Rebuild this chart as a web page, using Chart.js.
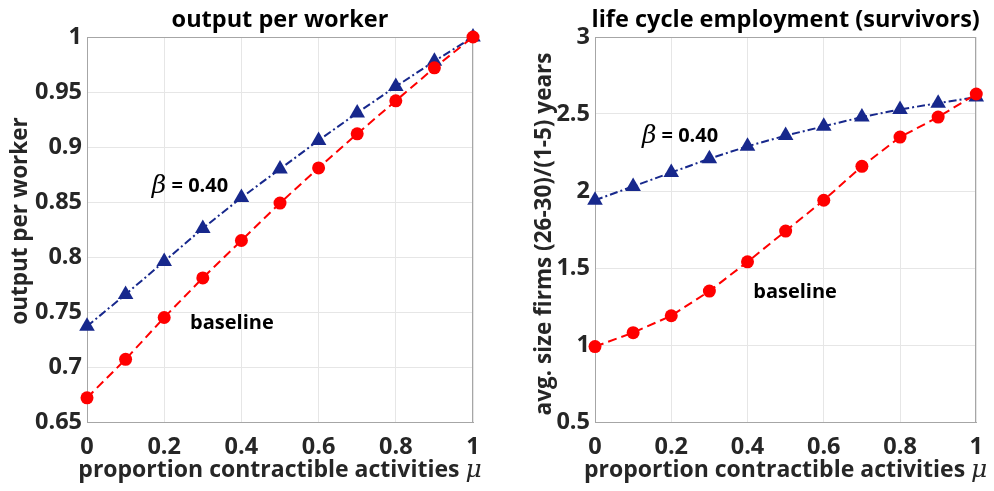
<!DOCTYPE html>
<html>
<head>
<meta charset="utf-8">
<script src="https://cdn.jsdelivr.net/npm/chart.js@4"></script>
<style>
  body { margin: 0; background: #fff; }
  .panel { position: absolute; top: 0; height: 491px; }
</style>
</head>
<body>
<div class="panel" style="left:0;width:494px"><canvas id="left" width="494" height="491"></canvas></div>
<div class="panel" style="left:494px;width:500px"><canvas id="right" width="500" height="491"></canvas></div>
<script>
// valores
const mu = [0, 0.1, 0.2, 0.3, 0.4, 0.5, 0.6, 0.7, 0.8, 0.9, 1];
const xTicks = [0, 0.2, 0.4, 0.6, 0.8, 1];

const outputBeta = [0.737, 0.766, 0.796, 0.826, 0.854, 0.880, 0.906, 0.931, 0.955, 0.978, 1.0];
const outputBase = [0.672, 0.707, 0.745, 0.781, 0.815, 0.849, 0.881, 0.912, 0.942, 0.972, 1.0];

const sizeBeta = [1.94, 2.03, 2.12, 2.21, 2.29, 2.36, 2.42, 2.48, 2.53, 2.57, 2.61];
const sizeBase = [0.99, 1.08, 1.19, 1.35, 1.54, 1.74, 1.94, 2.16, 2.35, 2.48, 2.63];

const outputTicks = [0.65, 0.7, 0.75, 0.8, 0.85, 0.9, 0.95, 1];
const sizeTicks = [0.5, 1, 1.5, 2, 2.5, 3];

const BLUE = '#17288c';
const RED = '#ff0000';
const TXT = '#262626';
const FAM = '"Open Sans"';
const ITAL = 'italic 25px "DejaVu Serif"';

function pts(ys) {
    return mu.map((x, i) => ({ x: x, y: ys[i] }));
}

// dibuja trozos de texto con fuentes distintas
function drawRuns(ctx, runs, x, y, align) {
    let total = 0;
    runs.forEach(r => { ctx.font = r.font; total += ctx.measureText(r.text).width; });
    let cx = align === 'center' ? x - total / 2 : x;
    ctx.textAlign = 'left';
    ctx.textBaseline = 'middle';
    runs.forEach(r => {
        ctx.font = r.font;
        ctx.fillStyle = r.color || TXT;
        ctx.fillText(r.text, cx, y);
        cx += ctx.measureText(r.text).width;
    });
}

const decor = {
    id: 'decor',
    beforeDatasetsDraw(chart) {
        const { ctx, chartArea: a } = chart;
        ctx.save();
        ctx.strokeStyle = '#a6a6a6';
        ctx.lineWidth = 1;
        ctx.strokeRect(Math.round(a.left) + 0.5, Math.round(a.top) + 0.5, Math.round(a.width) - 1, Math.round(a.height));
        ctx.restore();
    },
    afterDraw(chart, args, opts) {
        const { ctx, chartArea: a, scales: { x, y } } = chart;
        const mid = (a.left + a.right) / 2;
        ctx.save();
        drawRuns(ctx, [{ text: opts.title, font: 'bold 23.5px ' + FAM, color: '#000' }], mid, 20, 'center');
        drawRuns(ctx, [{ text: 'proportion contractible activities ', font: 'bold 23px ' + FAM }, { text: 'μ', font: ITAL }], mid, 470, 'center');
        ctx.translate(opts.yTitleX, opts.yTitleY);
        ctx.rotate(-Math.PI / 2);
        drawRuns(ctx, [{ text: opts.yTitle, font: 'bold 22.5px ' + FAM }], 0, 0, 'center');
        ctx.restore();
        ctx.save();
        opts.notes.forEach(n => {
            const runs = n.beta
                ? [{ text: 'β', font: ITAL, color: '#000' }, { text: ' = 0.40', font: 'bold 20px ' + FAM, color: '#000' }]
                : [{ text: n.text, font: 'bold 20px ' + FAM, color: '#000' }];
            drawRuns(ctx, runs, x.getPixelForValue(n.x), y.getPixelForValue(n.y), 'left');
        });
        ctx.restore();
    }
};

const tickFont = { family: 'Open Sans', size: 23.5, weight: 'bold' };

function makeChart(id, beta, base, yMin, yMax, yStep, yWidth, padRight, texts) {
    new Chart(document.getElementById(id), {
        type: 'scatter',
        data: {
            datasets: [
                {
                    data: pts(base),
                    showLine: true,
                    borderColor: RED,
                    backgroundColor: RED,
                    borderWidth: 2,
                    borderDash: [9, 5],
                    pointStyle: 'circle',
                    pointRadius: 6.5,
                    pointBorderWidth: 0,
                    clip: false
                },
                {
                    data: pts(beta),
                    showLine: true,
                    borderColor: BLUE,
                    backgroundColor: BLUE,
                    borderWidth: 2,
                    borderDash: [8, 3, 2, 3],
                    pointStyle: 'triangle',
                    pointRadius: 9,
                    pointBorderWidth: 0,
                    clip: false
                }
            ]
        },
        options: {
            responsive: false,
            animation: false,
            layout: { padding: { top: 37, right: padRight, left: 0, bottom: 0 } },
            plugins: {
                legend: { display: false },
                tooltip: { enabled: false },
                decor: texts
            },
            scales: {
                x: {
                    type: 'linear',
                    min: 0,
                    max: 1,
                    afterBuildTicks: s => { s.ticks = xTicks.map(v => ({ value: v })); },
                    afterFit: s => { s.height = 69; },
                    grid: { color: '#e6e6e6', drawTicks: false },
                    border: { color: '#a6a6a6' },
                    ticks: { font: tickFont, color: TXT, padding: 11, maxRotation: 0, callback: v => String(+v.toFixed(2)) }
                },
                y: {
                    min: yMin,
                    max: yMax,
                    afterBuildTicks: s => { s.ticks = yStep.map(v => ({ value: v })); },
                    afterFit: s => { s.width = yWidth; },
                    grid: { color: '#e6e6e6', drawTicks: false },
                    border: { color: '#a6a6a6' },
                    ticks: { font: tickFont, color: TXT, padding: 5, callback: v => String(+v.toFixed(2)) }
                }
            }
        },
        plugins: [decor]
    });
}

makeChart('left', outputBeta, outputBase, 0.65, 1, outputTicks, 87, 21, {
    title: 'output per worker',
    yTitle: 'output per worker',
    yTitleX: 21,
    yTitleY: 221,
    notes: [{ beta: true, x: 0.168, y: 0.864 }, { text: 'baseline', x: 0.267, y: 0.74 }]
});

makeChart('right', sizeBeta, sizeBase, 0.5, 3, sizeTicks, 101, 7, {
    title: 'life cycle employment (survivors)',
    yTitle: 'avg. size firms (26-30)/(1-5) years',
    yTitleX: 51,
    yTitleY: 234,
    notes: [{ beta: true, x: 0.123, y: 2.356 }, { text: 'baseline', x: 0.415, y: 1.343 }]
});
</script>
</body>
</html>
